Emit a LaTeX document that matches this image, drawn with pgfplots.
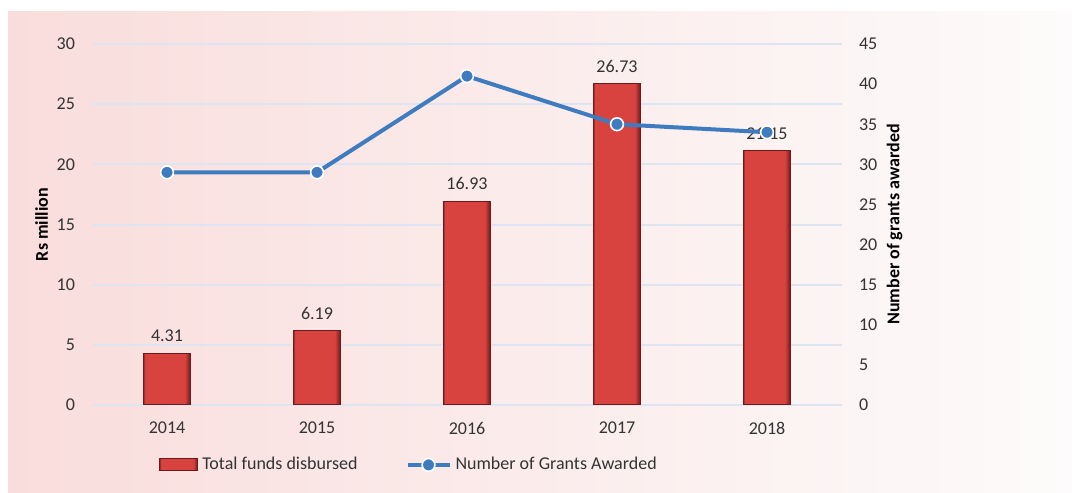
\documentclass[border=0pt]{standalone}
\usepackage{fontspec}
\setmainfont{Carlito}
\usepackage{pgfplots}
\pgfplotsset{compat=1.18}
\definecolor{barred}{HTML}{D8433F}
\definecolor{baredge}{HTML}{6E1A1A}
\definecolor{lineblue}{HTML}{3F7BBF}
\definecolor{gridblue}{HTML}{DCE5F1}
\definecolor{bgpink}{HTML}{F9DDDC}
\definecolor{bgwhite}{HTML}{FDFBFB}
\definecolor{txt}{HTML}{333333}
\pgfdeclarehorizontalshading{barbevel}{100bp}{color(0bp)=(baredge); color(25bp)=(baredge!70!barred);
  color(26.5bp)=(barred); color(69bp)=(barred); color(72.5bp)=(baredge!60!barred); color(75bp)=(baredge); color(100bp)=(baredge)}
\pgfplotsset{
  bevelbar/.style={shading=barbevel, draw=baredge, line width=0.5pt, bar shift=0pt},
  myline legend/.style={legend image code/.code={%
    \draw[mark repeat=2,mark phase=2,##1] plot coordinates {(0pt,0pt) (10.5pt,0pt) (21pt,0pt)};}},
  mybar legend/.style={legend image code/.code={%
    \draw[shading=barbevel, draw=baredge, line width=0.5pt] (0pt,-3pt) rectangle (19pt,3pt);}},
}
\begin{document}
\begin{tikzpicture}[x=0.5pt,y=0.5pt]
\useasboundingbox (0,0) rectangle (1072,493);
\shade[left color=bgpink, right color=bgwhite] (8,0) rectangle (1072,481);
\pgfplotsset{
  every axis/.append style={
    at={(46pt,44pt)}, anchor=south west, scale only axis,
    width=375pt, height=180.5pt, xmin=-0.5, xmax=4.5,
    axis line style={draw=none}, major tick length=0pt,
    tick label style={font=\fontsize{9}{10}\selectfont, text=txt},
    label style={font=\bfseries\fontsize{9}{10}\selectfont, text=black},
    /pgf/number format/assume math mode=true,
  }
}
\begin{axis}[
  ymin=0, ymax=30, ytick={0,5,...,30},
  xtick={0,1,2,3,4}, xticklabels={2014,2015,2016,2017,2018},
  xticklabel style={yshift=-5pt},
  yticklabel style={xshift=-5pt},
  ymajorgrids, grid style={gridblue, line width=1pt},
  ylabel={Rs million},
  ylabel style={at={(axis description cs:-0.067,0.5)}, anchor=center},
  ybar, bar width=23.5pt,
  nodes near coords,
  nodes near coords style={font=\fontsize{9}{10}\selectfont, text=txt, yshift=2pt,
    /pgf/number format/fixed, /pgf/number format/precision=2, /pgf/number format/fixed zerofill},
]
\addplot[bevelbar] coordinates {(0,4.31)};
\addplot[bevelbar] coordinates {(1,6.19)};
\addplot[bevelbar] coordinates {(2,16.93)};
\addplot[bevelbar] coordinates {(3,26.73)};
\addplot[bevelbar] coordinates {(4,21.15)};
\end{axis}
\begin{axis}[
  ymin=0, ymax=45, ytick={0,5,...,45},
  axis y line*=right, hide x axis,
  yticklabel style={xshift=5pt},
  ylabel={Number of grants awarded},
  ylabel style={at={(axis description cs:1.07,0.5)}, anchor=center},
  legend style={at={(axis description cs:0.424,-0.166)}, anchor=center, draw=none, fill=none,
    font=\fontsize{9}{10}\selectfont, text=txt, legend columns=2,
    /tikz/every even column/.append style={column sep=22pt}},
]
\addlegendimage{mybar legend}
\addlegendentry{Total funds disbursed}
\addplot[lineblue, line width=2pt, mark=*, mark size=3.2pt, mark options={fill=lineblue, draw=white, line width=0.8pt}, myline legend]
  coordinates {(0,29) (1,29) (2,41) (3,35) (4,34)};
\addlegendentry{Number of Grants Awarded}
\end{axis}
\end{tikzpicture}
\end{document}
